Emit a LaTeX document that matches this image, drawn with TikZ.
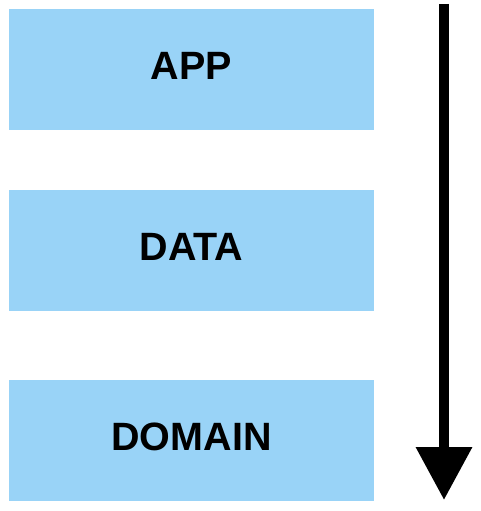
\documentclass[tikz,border=0pt]{standalone}
\usepackage{fontspec}
\setmainfont{Liberation Sans}
\usetikzlibrary{arrows.meta}
\definecolor{layerblue}{RGB}{153,211,247}
\tikzset{layer/.style={fill=layerblue, minimum width=365pt, minimum height=121pt, inner sep=0pt, text depth=7pt, font=\fontsize{39.5}{44}\selectfont\bfseries}}
\begin{document}
\begin{tikzpicture}[x=1pt, y=-1pt, line join=round]
\useasboundingbox (0,0) rectangle (480,511);
\node[layer] (app) at (191.5,69.5) {APP};
\node[layer] (data) at (191.5,250.5) {DATA};
\node[layer] (domain) at (191.5,440.5) {DOMAIN};
\coordinate (top) at (444,4);
\coordinate (bottom) at (444,500);
\draw[line width=10pt, -{Triangle[width=54pt,length=53pt]}] (top)--(bottom);
\end{tikzpicture}
\end{document}
